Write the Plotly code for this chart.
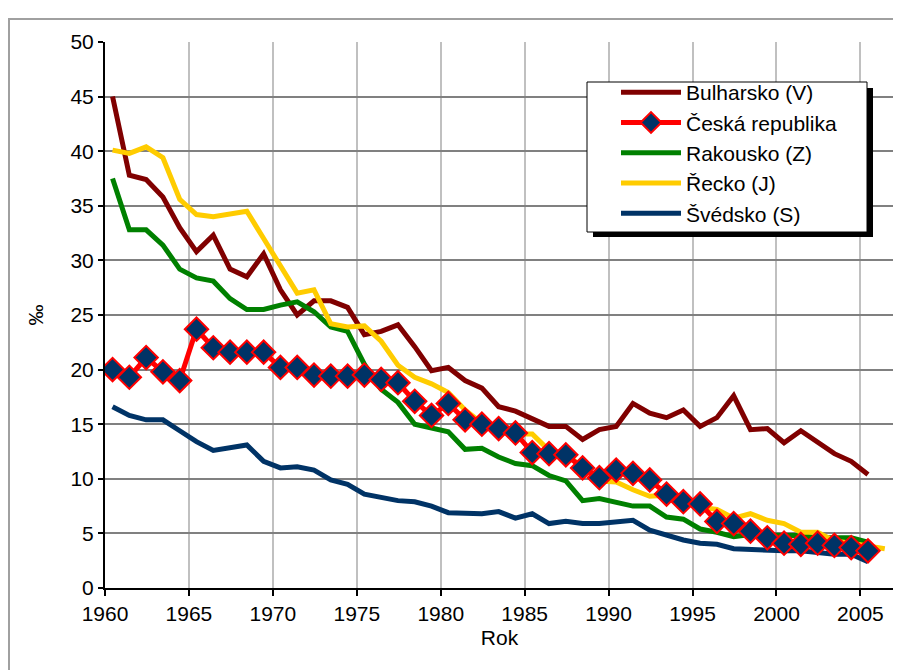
import plotly.graph_objects as go

years = list(range(1960, 2006))
years_gr = list(range(1960, 2007))

bulharsko = [45.0, 37.8, 37.4, 35.8, 33.0, 30.8, 32.3, 29.2, 28.5, 30.6,
             27.3, 25.0, 26.3, 26.3, 25.7, 23.2, 23.5, 24.1, 22.1, 19.9,
             20.2, 19.0, 18.3, 16.6, 16.2, 15.5, 14.8, 14.8, 13.6, 14.5,
             14.8, 16.9, 16.0, 15.6, 16.3, 14.8, 15.6, 17.6, 14.5, 14.6,
             13.3, 14.4, 13.4, 12.3, 11.6, 10.4]
cesko = [20.0, 19.3, 21.1, 19.8, 19.0, 23.7, 22.0, 21.6, 21.6, 21.6,
         20.2, 20.2, 19.5, 19.4, 19.4, 19.5, 19.1, 18.8, 17.1, 15.8,
         16.9, 15.4, 15.0, 14.6, 14.2, 12.4, 12.3, 12.2, 11.0, 10.1,
         10.8, 10.5, 9.9, 8.6, 7.9, 7.7, 6.1, 5.9, 5.2, 4.6,
         4.1, 4.0, 4.1, 3.9, 3.7, 3.4]
rakousko = [37.5, 32.8, 32.8, 31.4, 29.2, 28.4, 28.1, 26.5, 25.5, 25.5,
            25.9, 26.2, 25.3, 23.9, 23.5, 20.5, 18.2, 17.0, 15.0, 14.7,
            14.3, 12.7, 12.8, 12.0, 11.4, 11.2, 10.3, 9.8, 8.0, 8.2,
            7.8, 7.5, 7.5, 6.5, 6.3, 5.4, 5.1, 4.7, 4.9, 4.8,
            4.8, 4.8, 4.6, 4.6, 4.6, 4.2]
recko = [40.1, 39.8, 40.4, 39.4, 35.6, 34.2, 34.0, 34.3, 34.5, 32.0,
         29.6, 27.0, 27.3, 24.2, 23.9, 24.0, 22.6, 20.4, 19.3, 18.7,
         17.9, 16.3, 15.1, 14.6, 14.1, 14.1, 12.6, 12.2, 11.1, 9.8,
         9.7, 9.0, 8.4, 8.5, 7.9, 7.4, 7.2, 6.4, 6.8, 6.2,
         5.9, 5.1, 5.1, 4.3, 4.1, 3.8, 3.6]
svedsko = [16.6, 15.8, 15.4, 15.4, 14.4, 13.4, 12.6, 12.8, 13.1, 11.6,
           11.0, 11.1, 10.8, 9.9, 9.5, 8.6, 8.3, 8.0, 7.9, 7.5,
           6.9, 6.9, 6.8, 7.0, 6.4, 6.8, 5.9, 6.1, 5.9, 5.9,
           6.0, 6.2, 5.3, 4.8, 4.4, 4.1, 4.0, 3.6, 3.5, 3.4,
           3.4, 3.4, 3.2, 3.1, 3.1, 2.4]

x_ticks = [1960, 1965, 1970, 1975, 1980, 1985, 1990, 1995, 2000, 2005]
y_ticks = [0, 5, 10, 15, 20, 25, 30, 35, 40, 45, 50]

OFF = 0.45
FONT = "Liberation Sans, Arial, sans-serif"

# figure geometry (page has an 8px body margin)
BODY = 8
W, H = 893, 662
ML, MR, MT, MB = 97, 7, 34, 82
PW = W - ML - MR
PH = H - MT - MB


def px(page_x):
    return (page_x - BODY - ML) / PW


def py(page_y):
    return (H - MB - (page_y - BODY)) / PH


def xs(yrs):
    return [y + OFF for y in yrs]


fig = go.Figure()
fig.add_trace(go.Scatter(x=xs(years), y=bulharsko, name="Bulharsko (V)", mode="lines",
                         line=dict(color="#800000", width=5), legendrank=1))
fig.add_trace(go.Scatter(x=xs(years), y=rakousko, name="Rakousko (Z)", mode="lines",
                         line=dict(color="#008000", width=5), legendrank=3))
fig.add_trace(go.Scatter(x=xs(years_gr), y=recko, name="Řecko (J)", mode="lines",
                         line=dict(color="#ffcc00", width=5), legendrank=4))
fig.add_trace(go.Scatter(x=xs(years), y=svedsko, name="Švédsko (S)", mode="lines",
                         line=dict(color="#003366", width=5), legendrank=5))
fig.add_trace(go.Scatter(x=xs(years), y=cesko, name="Česká republika", mode="lines+markers",
                         line=dict(color="#ff0000", width=5),
                         marker=dict(symbol="diamond", size=18, color="#003366",
                                     line=dict(color="#ff0000", width=2)),
                         legendrank=2))

fig.update_layout(
    width=W, height=H,
    margin=dict(l=ML, r=MR, t=MT, b=MB),
    paper_bgcolor="white", plot_bgcolor="white",
    font=dict(family=FONT, size=21, color="black"),
    showlegend=True,
    legend=dict(x=px(616), y=py(72), xanchor="left", yanchor="top",
                bgcolor="rgba(0,0,0,0)", borderwidth=0,
                font=dict(size=21), traceorder="normal",
                itemwidth=60),
    xaxis=dict(range=[1960, 2007], tickvals=x_ticks, ticktext=[str(v) for v in x_ticks],
               showgrid=True, gridcolor="#c0c0c0", gridwidth=2,
               showline=True, linecolor="black", linewidth=2,
               ticks="outside", ticklen=6, tickcolor="black", tickwidth=1.5,
               title=dict(text="Rok", font=dict(size=21), standoff=6),
               zeroline=False, tickfont=dict(size=21)),
    yaxis=dict(range=[0, 50], tickvals=y_ticks,
               showgrid=True, gridcolor="#808080", gridwidth=1.5,
               showline=True, linecolor="black", linewidth=2,
               ticks="outside", ticklen=5, tickcolor="black", tickwidth=1.5,
               title=dict(text="‰", font=dict(size=21), standoff=21),
               zeroline=False, tickfont=dict(size=21)),
    shapes=[
        dict(type="rect", xref="paper", yref="paper",
             x0=px(9), x1=1.3, y0=-0.4, y1=py(19),
             line=dict(color="#a0a0a0", width=2), fillcolor="rgba(0,0,0,0)", layer="below"),
        dict(type="line", xref="paper", yref="paper", x0=1, x1=1, y0=0, y1=1,
             line=dict(color="#808080", width=1.5)),
        dict(type="rect", xref="paper", yref="paper",
             x0=px(593), x1=px(873), y0=py(237), y1=py(88),
             line=dict(width=0), fillcolor="black", layer="above"),
        dict(type="rect", xref="paper", yref="paper",
             x0=px(587), x1=px(867), y0=py(232), y1=py(82),
             line=dict(color="black", width=1), fillcolor="white", layer="above"),
    ],
)

fig.write_html("out.html")
